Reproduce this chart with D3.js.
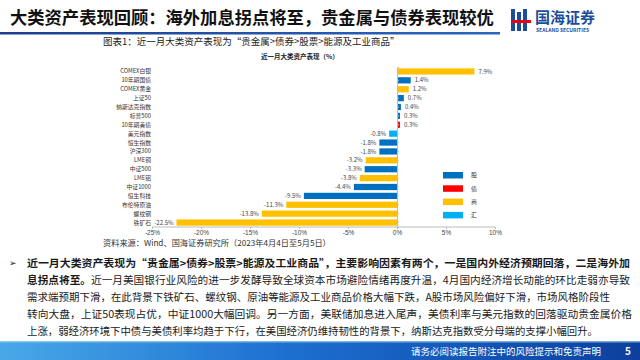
<!DOCTYPE html>
<html>
<head>
<meta charset="utf-8">
<script src="https://cdn.jsdelivr.net/npm/d3@7"></script>
<style>
  body { margin: 0; background: #fff; }
  svg { display: block; font-family: "Noto Sans CJK SC", "Noto Sans", sans-serif; }
</style>
</head>
<body>
<svg id="page"></svg>
<script>
// categories and values (%), top to bottom
let categories = ['COMEX白银', '10年期国债', 'COMEX黄金', '上证50', '纳斯达克指数', '标普500',
  '10年期美债', '美元指数', '恒生指数', '沪深300', 'LME铜', '中证500', 'LME铝', '中证1000',
  '恒生科技', '布伦特原油', '螺纹钢', '铁矿石'];
let values = [7.9, 1.4, 1.2, 0.7, 0.4, 0.3, 0.3, -0.8, -1.8, -1.8, -3.2, -3.3, -3.8, -4.4,
  -9.5, -11.3, -13.8, -22.5];
// asset class of each row: 股 / 债 / 商 / 汇
let classes = ['商', '股', '商', '股', '股', '股', '债', '汇', '股', '股', '商', '股', '商', '股',
  '股', '商', '商', '商'];
let legendKeys = ['股', '债', '商', '汇'];
let xTicks = [-25, -20, -15, -10, -5, 0, 5, 10];

let bodyLines = [
  [{t: '近一月大类资产表现为“贵金属>债券>股票>能源及工业商品”，主要影响因素有两个，一是国内外经济预期回落，二是海外加', b: true}],
  [{t: '息拐点将至。', b: true}, {t: '近一月美国银行业风险的进一步发酵导致全球资本市场避险情绪再度升温，4月国内经济增长动能的环比走弱亦导致', b: false}],
  [{t: '需求端预期下滑，在此背景下铁矿石、螺纹钢、原油等能源及工业商品价格大幅下跌，A股市场风险偏好下滑，市场风格阶段性', b: false}],
  [{t: '转向大盘，上证50表现占优，中证1000大幅回调。另一方面，美联储加息进入尾声，美债利率与美元指数的回落驱动贵金属价格', b: false}],
  [{t: '上涨，弱经济环境下中债与美债利率均趋于下行，在美国经济仍维持韧性的背景下，纳斯达克指数受分母端的支撑小幅回升。', b: false}]
];
let lineWidths = [603, 603, 583, 605, 571];

let color = d3.scaleOrdinal()
  .domain(legendKeys)
  .range(['#0070C0', '#FF0000', '#FFC000', '#00B0F0']);

let svg = d3.select('#page').attr('width', 640).attr('height', 360);

// ---- header ----
svg.append('text')
  .attr('x', 10).attr('y', 24)
  .attr('font-size', 17.3).attr('font-weight', 'bold').attr('fill', '#111')
  .text('大类资产表现回顾：海外加息拐点将至，贵金属与债券表现较优');

let hdrGrad = svg.append('defs').append('linearGradient').attr('id', 'hdr');
hdrGrad.append('stop').attr('offset', '0%').attr('stop-color', '#1b3f8f');
hdrGrad.append('stop').attr('offset', '100%').attr('stop-color', '#2a66c0');
svg.append('rect').attr('x', 0).attr('y', 32).attr('width', 500).attr('height', 2.5).attr('fill', 'url(#hdr)');

// logo
let logo = svg.append('g').attr('transform', translate(511, 9));
logo.append('rect').attr('x', 0).attr('y', 0).attr('width', 4).attr('height', 22).attr('fill', '#1a4e9a');
logo.append('rect').attr('x', 6).attr('y', 3).attr('width', 4).attr('height', 19).attr('fill', '#1a4e9a');
logo.append('rect').attr('x', 12).attr('y', 0).attr('width', 4).attr('height', 22).attr('fill', '#1a4e9a');
logo.append('rect').attr('x', 0).attr('y', 11).attr('width', 20).attr('height', 3).attr('fill', '#e60012');
logo.append('text').attr('x', 24).attr('y', 14).attr('font-size', 15).attr('font-weight', 'bold')
  .attr('fill', '#1a4e9a').text('国海证券');
logo.append('text').attr('x', 25).attr('y', 23).attr('font-size', 5).attr('font-weight', 'bold')
  .attr('fill', '#1a4e9a').text('SEALAND SECURITIES');

// ---- chart titles ----
svg.append('text')
  .attr('x', 103).attr('y', 45)
  .attr('font-size', 9.5).attr('fill', '#222')
  .text('图表1：近一月大类资产表现为“贵金属>债券>股票>能源及工业商品”');

svg.append('text')
  .attr('x', 300).attr('y', 59)
  .attr('text-anchor', 'middle')
  .attr('font-size', 6.5).attr('font-weight', 'bold').attr('fill', '#222')
  .text('近一月大类资产表现（%）');

// ---- bar chart ----
let x = d3.scaleLinear().domain([-25, 10]).range([152, 495]);
let y = d3.scaleBand().domain(categories).range([67, 227]).paddingInner(0.3).paddingOuter(0.15);

let rows = categories.map((c, i) => ({cat: c, val: values[i], cls: classes[i]}));

let plot = svg.append('g').attr('id', 'plot');

plot.selectAll('rect.bar')
  .data(rows)
  .join('rect')
  .attr('class', 'bar')
  .attr('x', d => x(Math.min(0, d.val)))
  .attr('y', d => y(d.cat))
  .attr('width', d => Math.abs(x(d.val) - x(0)))
  .attr('height', y.bandwidth())
  .attr('fill', d => color(d.cls));

// value labels
plot.selectAll('text.val')
  .data(rows)
  .join('text')
  .attr('class', 'val')
  .attr('x', d => d.val >= 0 ? x(d.val) + 4 : x(d.val) - 3)
  .attr('y', d => y(d.cat) + y.bandwidth() / 2)
  .attr('dy', '0.35em')
  .attr('text-anchor', d => d.val >= 0 ? 'start' : 'end')
  .attr('font-size', 6).attr('fill', '#444')
  .text(d => d.val.toFixed(1) + '%');

// category labels
plot.selectAll('text.cat')
  .data(rows)
  .join('text')
  .attr('class', 'cat')
  .attr('x', 151)
  .attr('y', d => y(d.cat) + y.bandwidth() / 2)
  .attr('dy', '0.35em')
  .attr('text-anchor', 'end')
  .attr('font-size', 5.8).attr('fill', '#333')
  .text(d => d.cat);

// x axis
let xAxis = d3.axisBottom(x)
  .tickValues(xTicks)
  .tickSize(2)
  .tickFormat(d => d + '%');
let xGroup = plot.append('g').attr('transform', translate(0, 227)).call(xAxis);
xGroup.select('.domain').attr('stroke', '#bbb').attr('d', 'M152,0H495');
xGroup.selectAll('.tick line').attr('stroke', '#bbb');
xGroup.selectAll('.tick text').attr('font-size', 6.5).attr('fill', '#444').attr('y', 3)
  .style('font-family', 'Arial, "Liberation Sans", sans-serif');

// y axis at zero
let yAxis = d3.axisRight(y).tickSize(2).tickFormat('');
let yGroup = plot.append('g').attr('transform', translate(x(0), 0)).call(yAxis);
yGroup.select('.domain').attr('stroke', '#bbb');
yGroup.selectAll('.tick line').attr('stroke', '#bbb');

// legend
let legend = plot.append('g').attr('transform', translate(443, 172));
legendKeys.forEach((k, i) => {
  let g = legend.append('g').attr('transform', translate(0, i * 13.3));
  g.append('rect').attr('width', 20).attr('height', 6.5).attr('fill', color(k));
  g.append('text').attr('x', 28).attr('y', 3.3).attr('dy', '0.35em')
    .attr('font-size', 6).attr('fill', '#333').text(k);
});

// source
svg.append('text')
  .attr('x', 103).attr('y', 246)
  .attr('font-size', 8.2).attr('fill', '#333')
  .text('资料来源：Wind、国海证券研究所（2023年4月4日至5月5日）');

// ---- body text ----
svg.append('text')
  .attr('x', 9).attr('y', 266)
  .attr('font-size', 9).attr('fill', '#222')
  .style('font-family', '"DejaVu Sans", sans-serif')
  .text('➢');

let body = svg.append('g');
bodyLines.forEach((parts, i) => {
  let t = body.append('text')
    .attr('x', 27).attr('y', 267 + i * 17)
    .attr('font-size', 10.6).attr('fill', '#1a1a1a')
    .attr('textLength', lineWidths[i])
    .attr('lengthAdjust', 'spacingAndGlyphs');
  parts.forEach(p => {
    t.append('tspan').attr('font-weight', p.b ? 'bold' : 'normal').text(p.t);
  });
});

// ---- footer ----
let ftGrad = svg.select('defs').append('linearGradient').attr('id', 'ft');
ftGrad.append('stop').attr('offset', '0%').attr('stop-color', '#4aa8e8');
ftGrad.append('stop').attr('offset', '45%').attr('stop-color', '#1c6fd0');
ftGrad.append('stop').attr('offset', '100%').attr('stop-color', '#0d3f9e');
svg.append('rect').attr('x', 0).attr('y', 341).attr('width', 640).attr('height', 19).attr('fill', 'url(#ft)');
svg.append('rect').attr('x', 0).attr('y', 341).attr('width', 640).attr('height', 1.5).attr('fill', '#9fd4f5').attr('opacity', 0.7);

svg.append('text')
  .attr('x', 601).attr('y', 355)
  .attr('text-anchor', 'end')
  .attr('font-size', 9.5).attr('fill', '#fff')
  .text('请务必阅读报告附注中的风险提示和免责声明');
svg.append('text')
  .attr('x', 625).attr('y', 355)
  .attr('font-size', 10).attr('font-weight', 'bold').attr('fill', '#fff')
  .text('5');

// helper method to make translating easier
function translate(x, y) {
  return 'translate(' + x + ',' + y + ')';
}
</script>
</body>
</html>
